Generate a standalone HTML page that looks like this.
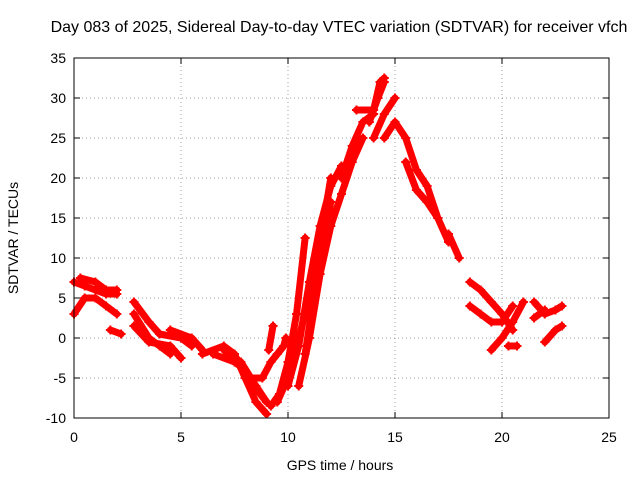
<!DOCTYPE html>
<html><head><meta charset="utf-8"><style>
body{margin:0;background:#fff;}
svg text{font-family:"Liberation Sans",sans-serif;font-size:14px;fill:#000;}
</style></head><body>
<svg id="chart" width="640" height="480" xmlns="http://www.w3.org/2000/svg">
<text x="339" y="32" text-anchor="middle" style="font-size:16px">Day 083 of 2025, Sidereal Day-to-day VTEC variation (SDTVAR) for receiver vfch</text>
<g id="grid"></g>
<g id="ticks"></g>
<g id="series"></g>
<rect x="74" y="58" width="535" height="360" fill="none" stroke="#000" stroke-width="1"/>
<text x="340" y="470" text-anchor="middle">GPS time / hours</text>
<text transform="translate(18,238) rotate(-90)" text-anchor="middle">SDTVAR / TECUs</text>
</svg>
<script>
const xTicks=[0,5,10,15,20,25];
const yTicks=[-10,-5,0,5,10,15,20,25,30,35];
const tracks=[
[[0,7],[0.5,6.5],[1,6],[1.5,5.5],[2,5.5]],
[[0,3],[0.5,5],[1,5],[1.5,4],[2,3]],
[[0.3,7.5],[1,7],[1.5,6],[2,6]],
[[1.7,1],[2.2,0.5]],
[[2.8,4.5],[3.5,2],[4,0.5],[5,0],[5.5,-1]],
[[2.8,3],[3.5,0],[4,-1],[4.5,-2]],
[[2.8,1.5],[3.5,-0.5],[4.5,-1],[5,-2.5]],
[[4.5,1],[5.5,0],[6,-1.5]],
[[6,-2],[7,-1],[7.5,-2],[8,-5],[8.5,-8],[9,-9.5]],
[[6.5,-2],[7.5,-3],[8,-4],[8.7,-7],[9,-8]],
[[7,-1.5],[7.8,-3],[8.5,-6],[9,-8]],
[[8,-5],[8.8,-5],[9.2,-3],[9.5,-2],[9.8,-1],[9.9,0]],
[[9.1,-1.5],[9.3,1.5]],
[[9.2,-8.5],[9.6,-7],[10,-3],[10.4,3],[10.8,12.5]],
[[9.5,-8],[10,-5],[10.5,0],[11,5],[11.5,12],[12,20]],
[[10,-6],[10.5,-1],[11,7],[11.5,14],[12,19],[12.5,21.5]],
[[10.5,-6],[11,0],[11.5,8],[12,14],[12.5,18],[13,22],[13.5,25]],
[[10.8,-2],[11.2,5],[11.5,10],[12,17]],
[[12.5,20],[13,24],[13.5,27],[14,28]],
[[13.2,28.5],[14,28.5],[14.3,32],[14.5,32.5]],
[[13.8,27],[14.2,30],[14.5,32]],
[[14,25],[14.5,28],[15,30]],
[[14.5,25],[15,27],[15.5,25],[16,21],[16.5,19],[17,15]],
[[15.5,22],[16,18.5],[16.5,17],[17,15],[17.5,12]],
[[17.5,13],[18,10]],
[[18.5,7],[19,6],[19.5,4.5],[20,3],[20.5,1]],
[[18.5,4],[19,3],[19.5,2],[20,2],[20.5,4]],
[[19.5,-1.5],[20,0],[20.5,2],[21,4.5]],
[[20.3,-1],[20.7,-1]],
[[21.5,4.5],[22,3],[22.5,3.5],[22.8,4]],
[[21.5,2.5],[22,3.5]],
[[22,-0.5],[22.5,1],[22.8,1.5]]
];
const NS="http://www.w3.org/2000/svg";
const X0=74,X1=609,Y0=418,Y1=58;
function sx(v){return X0+(v-0)/25*(X1-X0);}
function sy(v){return Y0-(v+10)/45*(Y0-Y1);}
function mk(tag,attrs,parent){const e=document.createElementNS(NS,tag);for(const k in attrs)e.setAttribute(k,attrs[k]);parent.appendChild(e);return e;}
const grid=document.getElementById('grid'),ticks=document.getElementById('ticks'),ser=document.getElementById('series');
xTicks.forEach(t=>{const x=sx(t);
 if(t>0&&t<25){const g=mk('line',{x1:x,x2:x,y1:Y1,y2:Y0,stroke:'#a0a0a0','stroke-dasharray':'1,3'},grid);
 
 }
 mk('line',{x1:x,x2:x,y1:Y0,y2:Y0-6,stroke:'#000'},ticks);
 mk('line',{x1:x,x2:x,y1:Y1,y2:Y1+6,stroke:'#000'},ticks);
 const tx=mk('text',{x:x,y:Y0+24,'text-anchor':'middle'},ticks);tx.textContent=t;
 
 
});
yTicks.forEach(t=>{const y=sy(t);
 if(t>-10&&t<35){const g=mk('line',{x1:X0,x2:X1,y1:y,y2:y,stroke:'#a0a0a0','stroke-dasharray':'1,3'},grid);
 
 }
 mk('line',{x1:X0,x2:X0+6,y1:y,y2:y,stroke:'#000'},ticks);
 mk('line',{x1:X1,x2:X1-6,y1:y,y2:y,stroke:'#000'},ticks);
 const tx=mk('text',{x:X0-8,y:y+5,'text-anchor':'end'},ticks);tx.textContent=t;
 
 
});
tracks.forEach((tr,i)=>{
 const pl=mk('polyline',{points:tr.map(p=>sx(p[0])+','+sy(p[1])).join(' '),fill:'none',stroke:'#ff0000','stroke-width':7,'stroke-linejoin':'round','stroke-linecap':'round'},ser);
 
 
 tr.forEach(p=>{const x=sx(p[0]),y=sy(p[1]);
  const m=mk('path',{d:`M${x-4.5},${y}H${x+4.5}M${x},${y-4.5}V${y+4.5}`,stroke:'#ff0000','stroke-width':2},ser);
  
  
 });
});
</script>
</body></html>
